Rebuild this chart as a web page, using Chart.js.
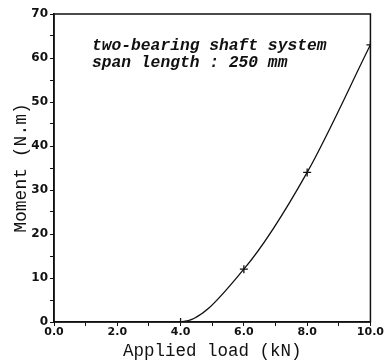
<!DOCTYPE html>
<html>
<head>
<meta charset="utf-8">
<script src="https://cdn.jsdelivr.net/npm/chart.js"></script>
<style>
  html, body { margin: 0; padding: 0; background: #fff; }
  #wrap { width: 384px; height: 362px; }
</style>
</head>
<body>
<div id="wrap"><canvas id="momentChart" width="384" height="362"></canvas></div>
<script>
  // values
  const loads = [0, 4, 6, 8, 10];
  const moments = [0, 0, 12, 34, 63];
  const markedLoads = [4, 6, 8, 10];
  const noteLines = ["two-bearing shaft system", "span length : 250 mm"];

  const ink = "#111";

  // box around the plot + the little note
  const framePlugin = {
    id: "frame",
    afterDraw(chart) {
      const { ctx, chartArea: a } = chart;
      ctx.save();
      ctx.strokeStyle = ink;
      ctx.lineWidth = 1.5;
      ctx.strokeRect(a.left, a.top, a.right - a.left, a.bottom - a.top);
      ctx.font = "italic bold 16.3px 'Liberation Mono'";
      ctx.fillStyle = ink;
      ctx.textBaseline = "alphabetic";
      ctx.fillText(noteLines[0], 92, 50);
      ctx.fillText(noteLines[1], 92, 67);
      ctx.restore();
    },
  };

  const tickFont = { family: "'DejaVu Sans'", weight: "bold", size: 11 };
  const titleFont = { family: "'Liberation Mono'", size: 17.5 };

  const ctx = document.getElementById("momentChart");
  new Chart(ctx, {
    type: "line",
    data: {
      datasets: [{
        data: loads.map((x, i) => ({ x, y: moments[i] })),
        borderColor: ink,
        borderWidth: 1.3,
        cubicInterpolationMode: "monotone",
        pointStyle: "cross",
        pointRadius: loads.map((x) => (markedLoads.includes(x) ? 4 : 0)),
        pointBorderColor: ink,
        pointBorderWidth: 1.3,
        fill: false,
      }],
    },
    plugins: [framePlugin],
    options: {
      responsive: false,
      animation: false,
      layout: { padding: { top: 14, right: 12, left: 10, bottom: 0 } },
      plugins: { legend: { display: false }, tooltip: { enabled: false } },
      scales: {
        x: {
          type: "linear",
          min: 0,
          max: 10,
          afterFit: (s) => { s.height = 40; },
          ticks: {
            stepSize: 1,
            autoSkip: false,
            maxRotation: 0,
            padding: 0,
            color: ink,
            font: tickFont,
            callback: (v) => (v % 2 === 0 ? v.toFixed(1) : ""),
          },
          grid: { drawOnChartArea: false, tickLength: 4, color: ink },
          border: { color: ink, width: 1.5 },
          title: {
            display: true,
            text: "Applied load (kN)",
            color: ink,
            padding: { top: 0, bottom: 0 },
            font: titleFont,
          },
        },
        y: {
          min: 0,
          max: 70,
          afterFit: (s) => { s.width = 44; },
          ticks: {
            stepSize: 5,
            autoSkip: false,
            padding: 2,
            color: ink,
            font: { ...tickFont, size: 12 },
            callback: (v) => (v % 10 === 0 ? String(v) : ""),
          },
          grid: { drawOnChartArea: false, tickLength: 4, color: ink },
          border: { color: ink, width: 1.5 },
          title: {
            display: true,
            text: "Moment (N.m)",
            color: ink,
            padding: { top: 0, bottom: 2 },
            font: { ...titleFont, size: 18 },
          },
        },
      },
    },
  });
</script>
</body>
</html>
